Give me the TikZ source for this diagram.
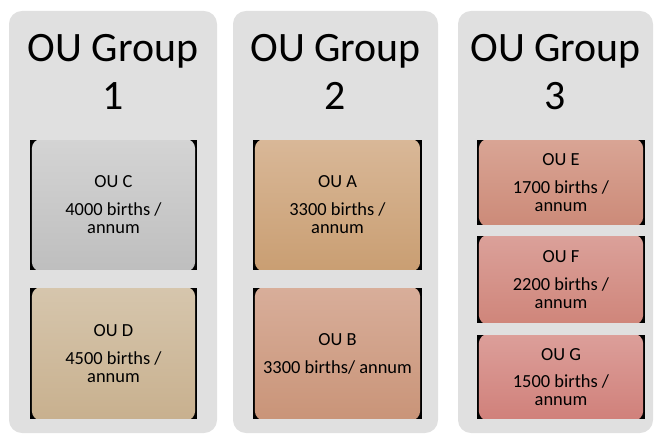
\documentclass[tikz,border=0pt]{standalone}
\usepackage{fontspec}
\setmainfont{Carlito}
\usepackage{tikz}
\usetikzlibrary{shapes.geometric}

\definecolor{panelgray}{RGB}{224,224,224}
\definecolor{ctop}{RGB}{212,212,212}\definecolor{cbot}{RGB}{190,190,190}
\definecolor{dtop}{RGB}{214,198,173}\definecolor{dbot}{RGB}{200,176,142}
\definecolor{atop}{RGB}{217,184,152}\definecolor{abot}{RGB}{201,158,114}
\definecolor{btop}{RGB}{216,174,154}\definecolor{bbot}{RGB}{201,148,120}
\definecolor{etop}{RGB}{217,165,149}\definecolor{ebot}{RGB}{204,138,120}
\definecolor{ftop}{RGB}{219,161,154}\definecolor{fbot}{RGB}{207,133,122}
\definecolor{gtop}{RGB}{220,159,154}\definecolor{gbot}{RGB}{208,128,122}
\tikzstyle{panel} = [fill=panelgray,rounded corners=13]
\tikzstyle{grouptitle} = [align=center,font=\fontsize{42}{48}\selectfont]
\tikzstyle{oubox} = [fill=black,inner sep=0pt,align=center,font=\fontsize{18.5}{18}\selectfont]
\tikzset{
  oushade/.style 2 args={path picture={
    \shade[top color=#1,bottom color=#2,rounded corners=10]
      ([shift={(1.5,-1.5)}]path picture bounding box.north west) rectangle
      ([shift={(-1.5,2)}]path picture bounding box.south east);}},
}

\begin{document}
\begin{tikzpicture}[x=1bp,y=-1bp]
                \useasboundingbox (0,0) rectangle (657,435);
                % group panels
                \fill[panel] (9,11) rectangle (217,433);
                \fill[panel] (233,11) rectangle (438,433);
                \fill[panel] (458,11) rectangle (653,433);
                \node[grouptitle] (g1) at (113,72) {OU Group\\1};
                \node[grouptitle] (g2) at (335.5,72) {OU Group\\2};
                \node[grouptitle] (g3) at (555.5,72) {OU Group\\3};
                % group 1
                \node[oubox,oushade={ctop}{cbot},minimum width=167,minimum height=130] (ouc) at (113.5,205) {OU C\\[10pt]4000 births /\\annum};
                \node[oubox,oushade={dtop}{dbot},minimum width=167,minimum height=131] (oud) at (113.5,353.5) {OU D\\[10pt]4500 births /\\annum};
                % group 2
                \node[oubox,oushade={atop}{abot},minimum width=169,minimum height=130] (oua) at (337.5,205) {OU A\\[10pt]3300 births /\\annum};
                \node[oubox,oushade={btop}{bbot},minimum width=169,minimum height=131] (oub) at (337.5,353.5) {OU B\\[10pt]3300 births/ annum};
                % group 3
                \node[oubox,oushade={etop}{ebot},minimum width=168,minimum height=85] (oue) at (561,182.5) {OU E\\[10pt]1700 births /\\annum};
                \node[oubox,oushade={ftop}{fbot},minimum width=168,minimum height=87] (ouf) at (561,279.5) {OU F\\[10pt]2200 births /\\annum};
                \node[oubox,oushade={gtop}{gbot},minimum width=168,minimum height=84] (oug) at (561,377) {OU G\\[10pt]1500 births /\\annum};
\end{tikzpicture}
\end{document}
